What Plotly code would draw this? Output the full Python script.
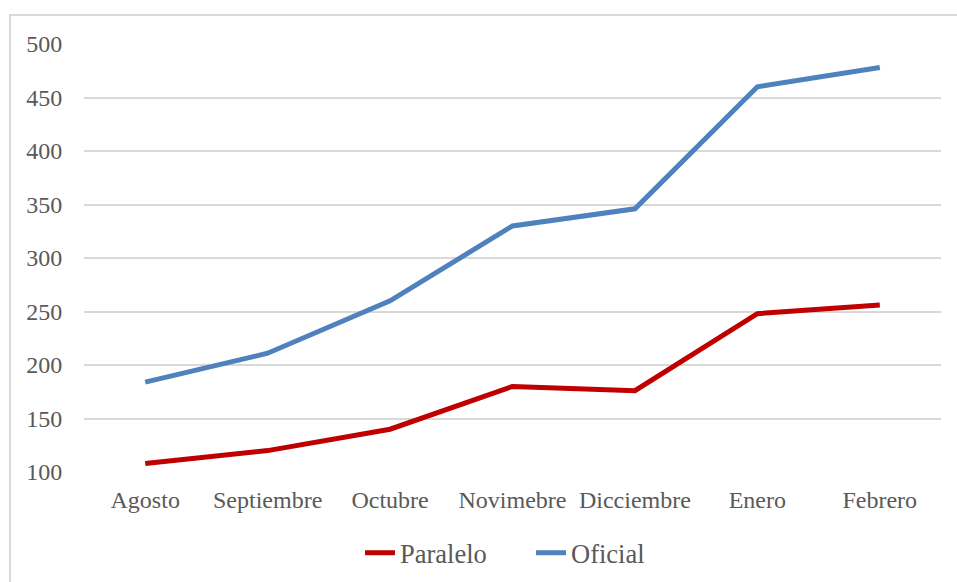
import plotly.graph_objects as go

months = ["Agosto", "Septiembre", "Octubre", "Novimebre", "Dicciembre", "Enero", "Febrero"]
paralelo = [108, 120, 140, 180, 176, 248, 256]
oficial = [184, 211, 260, 330, 346, 460, 478]
y_ticks = [100, 150, 200, 250, 300, 350, 400, 450, 500]

W, H = 957, 582
L, R, T, B = 84, 941, 44, 472

fig = go.Figure()
fig.add_trace(go.Scatter(x=months, y=paralelo, name="Paralelo", mode="lines",
                         line=dict(color="#C00000", width=5)))
fig.add_trace(go.Scatter(x=months, y=oficial, name="Oficial", mode="lines",
                         line=dict(color="#4F81BD", width=5)))

font = dict(family="Liberation Serif", size=24, color="#595959")
legend_font = dict(family="Liberation Serif", size=26.5, color="#595959")

fig.update_layout(
    width=W, height=H,
    margin=dict(l=L, r=W - R, t=T, b=H - B, autoexpand=False),
    paper_bgcolor="white", plot_bgcolor="white",
    font=font,
    showlegend=True,
    legend=dict(orientation="h", x=(360 - L) / (R - L), xanchor="left",
                y=(B - 553) / (B - T), yanchor="middle",
                font=legend_font, itemwidth=30, entrywidth=126, tracegroupgap=0,
                bgcolor="rgba(0,0,0,0)"),
    xaxis=dict(range=[-0.5, 6.5], showgrid=False, showline=False, zeroline=False,
               automargin=False,
               ticks="outside", ticklen=6, tickcolor="rgba(0,0,0,0)", tickfont=font),
    yaxis=dict(range=[100, 500], tickvals=y_ticks, showgrid=True, gridcolor="#D9D9D9",
               gridwidth=2, zeroline=False, showline=False, automargin=False,
               ticks="outside", ticklen=16, tickcolor="rgba(0,0,0,0)", tickfont=font),
    shapes=[dict(type="rect", xref="paper", yref="paper",
                 x0=(10 - L) / (R - L), x1=(970 - L) / (R - L),
                 y0=(B - 600) / (B - T), y1=(B - 15) / (B - T),
                 line=dict(color="#D9D9D9", width=2), fillcolor="rgba(0,0,0,0)", layer="below")],
)

fig.write_html("out.html")
